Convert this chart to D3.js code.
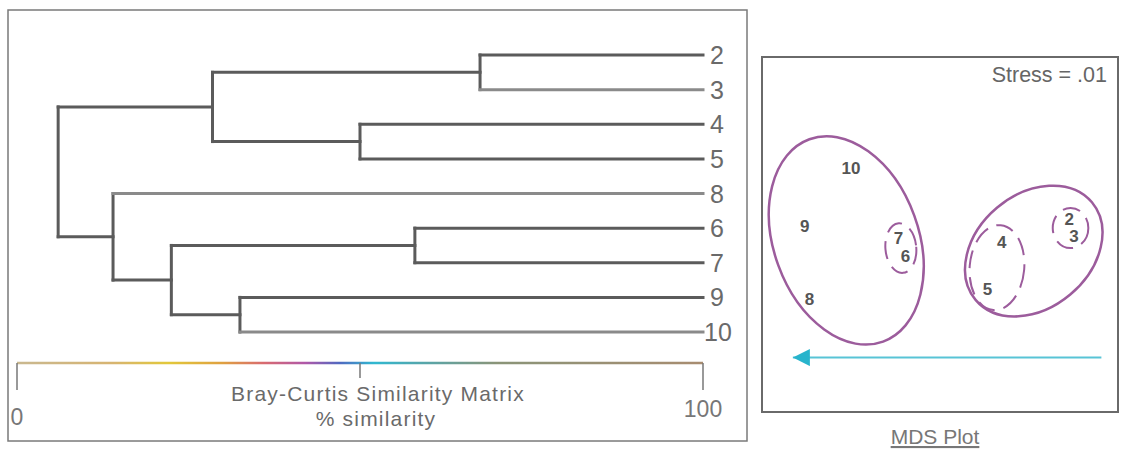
<!DOCTYPE html>
<html><head><meta charset="utf-8">
<script src="https://cdn.jsdelivr.net/npm/d3@7"></script>
<style>
html,body{margin:0;padding:0;background:#fff;}
svg{display:block;font-family:"Liberation Sans",Arial,sans-serif;}
</style></head>
<body>
<svg id="c" width="1127" height="449"></svg>
<script>
// ---------- DATA ----------
const leafOrder = ["2","3","4","5","8","6","7","9","10"];
const clusterNames = ["A","B","C","D","E","F","G","H"];
const clusterChildren = [["2","3"],["4","5"],["6","7"],["9","10"],["A","B"],["C","D"],["8","F"],["E","G"]];
const clusterSimilarity = [67.5, 50, 58, 32.5, 28.5, 22.5, 14, 6];
const lightLeaves = ["3","8","10"];
const axisTicks = [0, 50, 100];
const axisLabels = ["0", "", "100"];
const axisTitle = ["Bray-Curtis Similarity Matrix", "% similarity"];

const mdsLabels = ["10","9","7","6","8","4","5","2","3"];
const mdsX = [-0.75,-1.14,-0.35,-0.29,-1.10,0.52,0.40,1.09,1.13];
const mdsY = [0.56,0.07,-0.03,-0.18,-0.54,-0.06,-0.46,0.135,-0.01];
const stressText = "Stress = .01";
const mdsTitle = "MDS Plot";
// groups: center x, center y (MDS units), radii (MDS units), rotation deg, dashed
const groupCX = [-0.79, 0.79, -0.33, 0.48, 1.10];
const groupCY = [-0.05, -0.14, -0.115, -0.28, 0.055];
const groupRX = [0.61, 0.64, 0.13, 0.23, 0.15];
const groupRY = [0.91, 0.48, 0.21, 0.36, 0.17];
const groupRot = [-20, -40, -5, 5, 0];
const groupDashed = [false, false, true, true, true];

// ---------- SETUP ----------
const svg = d3.select("#c");
const grey = "#5b5b5b";

// left frame
svg.append("rect").attr("x",8).attr("y",10).attr("width",739).attr("height",431)
  .attr("fill","none").attr("stroke","#7a7a7a").attr("stroke-width",1.5);

const x = d3.scaleLinear().domain([0,100]).range([17,703]);
const yLeaf = d3.scalePoint().domain(leafOrder).range([55,332]);

// build tree
const nodeMap = {};
leafOrder.forEach(l => nodeMap[l] = {name:l, sim:100});
clusterNames.forEach((n,i) => {
  nodeMap[n] = {name:n, sim:clusterSimilarity[i], children: clusterChildren[i].map(c => nodeMap[c])};
});
const root = d3.hierarchy(nodeMap["H"], d => d.children);
root.eachAfter(d => {
  d.px = x(d.data.sim);
  d.py = d.children ? d3.mean(d.children, c => c.py) : yLeaf(d.data.name);
});

const g = svg.append("g").attr("fill","none").attr("stroke-linecap","square");
root.descendants().filter(d => d.children).forEach(d => {
  g.append("line").attr("x1",d.px).attr("x2",d.px)
    .attr("y1",d3.min(d.children,c=>c.py)).attr("y2",d3.max(d.children,c=>c.py))
    .attr("stroke",grey).attr("stroke-width",3);
  d.children.forEach(c => {
    const light = !c.children && lightLeaves.includes(c.data.name);
    g.append("line").attr("x1",d.px).attr("x2",c.px).attr("y1",c.py).attr("y2",c.py)
      .attr("stroke", light ? "#8a8a8a" : grey).attr("stroke-width",3);
  });
});
// leaf labels
svg.selectAll("text.leaf").data(root.leaves()).join("text")
  .attr("class","leaf").attr("x", d => d.px + (d.data.name.length > 1 ? 1 : 7)).attr("y", d => d.py).attr("dy","0.36em")
  .attr("font-size",25).attr("fill","#6a6a6a").text(d => d.data.name);

// colour scale bar
const defs = svg.append("defs");
const grad = defs.append("linearGradient").attr("id","rb")
  .attr("gradientUnits","userSpaceOnUse").attr("x1",x(0)).attr("x2",x(100)).attr("y1",0).attr("y2",0);
[[0,"#c9b890"],[0.14,"#d7b470"],[0.22,"#e2c83a"],[0.3,"#dfa040"],[0.36,"#d86a70"],[0.42,"#b058a8"],
 [0.47,"#5068c0"],[0.52,"#30b8d0"],[0.58,"#50a8b0"],[0.7,"#8a9478"],[1,"#a88c70"]]
 .forEach(s => grad.append("stop").attr("offset",s[0]).attr("stop-color",s[1]));
svg.append("line").attr("x1",x(0)).attr("x2",x(100)).attr("y1",363).attr("y2",363)
  .attr("stroke","url(#rb)").attr("stroke-width",2.5);
axisTicks.forEach((t,i) => {
  svg.append("line").attr("x1",x(t)).attr("x2",x(t)).attr("y1",363)
    .attr("y2", i===1 ? 378 : 390).attr("stroke","#777").attr("stroke-width",1.5);
});
svg.append("text").attr("x",x(axisTicks[0])).attr("y",425).attr("text-anchor","middle")
  .attr("font-size",23).attr("fill","#777").text(axisLabels[0]);
svg.append("text").attr("x",x(axisTicks[2])).attr("y",417).attr("text-anchor","middle")
  .attr("font-size",23).attr("fill","#777").text(axisLabels[2]);
svg.append("text").attr("x",378).attr("y",401).attr("text-anchor","middle")
  .attr("font-size",21).attr("letter-spacing",1.2).attr("fill","#6a6a6a").text(axisTitle[0]);
svg.append("text").attr("x",376).attr("y",426).attr("text-anchor","middle")
  .attr("font-size",21).attr("letter-spacing",1.2).attr("fill","#6a6a6a").text(axisTitle[1]);

// ---------- MDS ----------
const mx = d3.scaleLinear().domain([-1.5,1.5]).range([762,1118]);
const my = d3.scaleLinear().domain([-1.5,1.5]).range([412,57]);
svg.append("rect").attr("x",762).attr("y",57).attr("width",356).attr("height",355)
  .attr("fill","none").attr("stroke","#6a6a6a").attr("stroke-width",2);
svg.append("text").attr("x",1107).attr("y",82).attr("text-anchor","end")
  .attr("font-size",21.5).attr("fill","#666").text(stressText);
svg.append("text").attr("x",935).attr("y",444).attr("text-anchor","middle")
  .attr("font-size",21).attr("fill","#777").attr("text-decoration","underline").text(mdsTitle);

const ux = mx(1)-mx(0), uy = my(0)-my(1);
groupCX.forEach((cx,i) => {
  svg.append("ellipse")
    .attr("transform",`translate(${mx(cx)},${my(groupCY[i])}) rotate(${groupRot[i]})`)
    .attr("rx",groupRX[i]*ux).attr("ry",groupRY[i]*uy)
    .attr("fill","none").attr("stroke","#9c5c9c").attr("stroke-width", groupDashed[i] ? 2 : 2.5)
    .attr("stroke-dasharray", groupDashed[i] ? "18,9" : null);
});
svg.selectAll("text.pt").data(mdsLabels).join("text").attr("class","pt")
  .attr("x",(d,i)=>mx(mdsX[i])).attr("y",(d,i)=>my(mdsY[i])).attr("dy","0.36em")
  .attr("text-anchor","middle").attr("font-size",17).attr("font-weight","bold")
  .attr("fill","#555").text(d=>d);

// arrow
defs.append("marker").attr("id","ah").attr("viewBox","0 0 10 10")
  .attr("refX",10).attr("refY",5).attr("markerWidth",24).attr("markerHeight",17)
  .attr("markerUnits","userSpaceOnUse").attr("orient","auto")
  .append("path").attr("d","M0,0 L10,5 L0,10 Z").attr("fill","#28b4cc");
svg.append("line").attr("x1",mx(1.36)).attr("x2",mx(-1.24)).attr("y1",my(-1.04)).attr("y2",my(-1.04))
  .attr("stroke","#58c4d6").attr("stroke-width",2).attr("marker-end","url(#ah)");
</script>
</body></html>
